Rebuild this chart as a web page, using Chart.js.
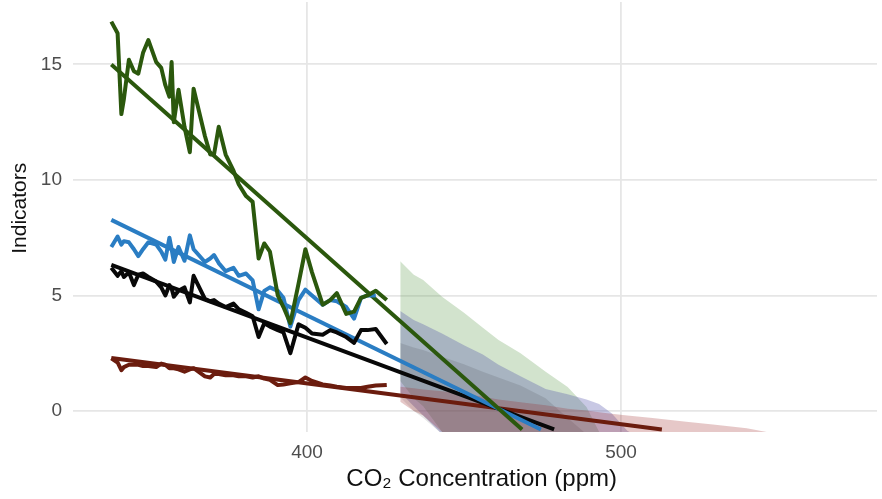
<!DOCTYPE html>
<html lang="en">
<head>
<meta charset="UTF-8" />
<title>Indicators vs CO2</title>
<style>
  html, body { margin: 0; padding: 0; background: #fff; }
  #chart { display: block; }
</style>
</head>
<body>
<canvas id="chart" width="882" height="499"></canvas>
<script src="https://cdn.jsdelivr.net/npm/chart.js"></script>
<script>
// observed CO2 concentration (ppm), one value per year
const co2 = [337.7, 339.7, 340.9, 341.7, 343.3, 344.9, 346.3, 347.8, 349.5, 352.0,
             353.6, 354.9, 356.2, 356.9, 357.6, 359.1, 361.0, 362.7, 363.9, 367.5,
             369.2, 370.4, 371.9, 374.1, 376.6, 378.3, 380.6, 382.7, 384.6, 386.4,
             388.2, 390.7, 392.5, 394.7, 397.3, 399.5, 401.6, 405.0, 407.4, 409.5,
             412.5, 415.0, 417.2, 419.3, 421.9, 425.4];

const greenObs = [16.85, 16.35, 12.85, 13.5, 15.2, 14.7, 14.6, 15.5, 16.05, 15.1,
                  14.85, 14.1, 13.6, 15.1, 12.5, 13.9, 12.3, 11.2, 13.95, 11.9,
                  11.1, 11.1, 12.3, 11.1, 10.4, 9.8, 9.3, 9.05, 6.6, 7.25,
                  6.9, 5.0, 4.5, 3.8, 5.5, 7.0, 6.0, 4.6, 4.8, 5.1,
                  4.2, 4.3, 4.9, 5.0, 5.2, 4.8];

const blueObs = [7.1, 7.55, 7.2, 7.35, 7.3, 7.0, 6.7, 7.0, 7.3, 7.2,
                 6.9, 6.55, 7.5, 7.0, 6.45, 7.1, 6.5, 7.6, 7.0, 6.45,
                 6.6, 6.75, 6.4, 6.05, 6.2, 5.85, 5.95, 5.65, 4.4, 5.2,
                 5.35, 5.2, 4.9, 3.65, 4.8, 5.25, 5.0, 4.6, 4.8, 4.75,
                 4.5, 4.0, 4.9, 5.0, 5.0, null];

const blackObs = [6.2, 5.85, 6.05, 5.8, 6.0, 5.45, 5.9, 5.95, 5.8, 5.6,
                  5.35, 5.0, 5.45, 5.3, 4.95, 5.2, 5.35, 4.7, 5.85, 4.85,
                  4.75, 4.8, 4.65, 4.5, 4.65, 4.4, 4.25, 4.1, 3.2, 3.8,
                  3.65, 3.5, 3.4, 2.5, 3.75, 3.6, 3.35, 3.3, 3.5, 3.4,
                  3.2, 2.95, 3.5, 3.5, 3.55, 2.9];

const redObs = [2.28, 2.1, 1.77, 1.9, 2.0, 2.0, 2.0, 1.95, 1.95, 1.9,
                2.05, 2.0, 1.85, 1.85, 1.85, 1.8, 1.7, 1.8, 1.85, 1.5,
                1.45, 1.6, 1.6, 1.55, 1.55, 1.5, 1.5, 1.45, 1.5, 1.4,
                1.35, 1.12, 1.15, 1.2, 1.25, 1.45, 1.3, 1.15, 1.1, 1.05,
                1.0, 1.0, 1.0, 1.05, 1.1, 1.13];

// linear fits: start and end points
const greenFitX = [337.7, 468.5];
const greenFit = [15.0, -0.8];
const blueFitX = [337.7, 474.5];
const blueFit = [8.27, -0.8];
const blackFitX = [337.7, 478.7];
const blackFit = [6.32, -0.8];
const redFitX = [337.7, 513];
const redFit = [2.29, -0.8];

// projection ranges
const bandX = [429.7, 434, 437, 443, 450, 456, 461, 468, 476, 483,
               489, 493, 497, 502, 510, 520, 530, 540, 548];
const greenUpper = [6.48, 5.9, 5.67, 4.94, 4.25, 3.6, 3.07, 2.5, 1.7, 1.04,
                    0.17, -0.9, -1.5, -1.5, -1.5, -1.5, -1.5, -1.5, -1.5];
const greenLower = [1.3, 0.55, 0.2, -0.9, -1.6, -2, -2, -2, -2, -2,
                    -2, -2, -2, -2, -2, -2, -2, -2, -2];
const blueUpper = [4.33, 3.94, 3.75, 3.35, 2.85, 2.45, 2.0, 1.5, 0.95, 0.72,
                   0.5, 0.3, -0.1, -0.85, -1.5, -1.6, -1.6, -1.6, -1.6];
const blueLower = [0.8, 0.2, -0.2, -1.0, -2, -2, -2, -2, -2, -2,
                   -2, -2, -2, -2, -2, -2, -2, -2, -2];
const blackUpper = [2.94, 2.75, 2.64, 2.35, 2.02, 1.7, 1.45, 1.1, 0.55, -0.3,
                    -1.0, -1.6, -1.6, -1.6, -1.6, -1.6, -1.6, -1.6, -1.6];
const blackLower = [0.6, 0.0, -0.3, -1.0, -2, -2, -2, -2, -2, -2,
                    -2, -2, -2, -2, -2, -2, -2, -2, -2];
const redUpper = [1.05, 0.98, 0.93, 0.85, 0.75, 0.62, 0.5, 0.38, 0.25, 0.1,
                  0.02, -0.05, -0.12, -0.2, -0.3, -0.45, -0.6, -0.75, -0.95];
const redLower = [0.4, 0.0, -0.2, -0.9, -2, -2, -2, -2, -2, -2,
                  -2, -2, -2, -2, -2, -2, -2, -2, -2];

const xTicks = [400, 500];
const yTicks = [0, 5, 10, 15];

const GREEN = '#2b580d';
const BLUE = '#2a7dc3';
const BLACK = '#080808';
const RED = '#6b1c0e';

function toPoints(xs, ys) {
    return xs.map((x, i) => ({ x: x, y: ys[i] }));
}

function lineSet(xs, ys, color, order) {
    return {
        data: toPoints(xs, ys),
        borderColor: color,
        borderWidth: 4,
        borderJoinStyle: 'round',
        pointRadius: 0,
        pointHitRadius: 0,
        fill: false,
        tension: 0,
        clip: 0,
        order: order
    };
}

function bandSets(lower, upper, color, order) {
    return [
        { data: toPoints(bandX, lower), borderColor: 'rgba(0,0,0,0)', borderWidth: 1,
          pointRadius: 0, fill: false, tension: 0, order: order },
        { data: toPoints(bandX, upper), borderColor: 'rgba(0,0,0,0)', borderWidth: 1,
          pointRadius: 0, fill: '-1', backgroundColor: color, tension: 0, order: order }
    ];
}

const font = "'Liberation Sans', Arial, sans-serif";

const datasets = [
    lineSet(co2, greenObs, GREEN, 1),
    lineSet(co2, blueObs, BLUE, 2),
    lineSet(co2, blackObs, BLACK, 3),
    lineSet(co2, redObs, RED, 4),
    lineSet(greenFitX, greenFit, GREEN, 5),
    lineSet(blueFitX, blueFit, BLUE, 6),
    lineSet(blackFitX, blackFit, BLACK, 7),
    lineSet(redFitX, redFit, RED, 8),
    ...bandSets(redLower, redUpper, 'rgba(155,35,35,0.25)', 20),
    ...bandSets(blackLower, blackUpper, 'rgba(0,0,0,0.10)', 21),
    ...bandSets(blueLower, blueUpper, 'rgba(72,72,165,0.30)', 22),
    ...bandSets(greenLower, greenUpper, 'rgba(90,150,70,0.27)', 23)
];

new Chart(document.getElementById('chart'), {
    type: 'line',
    data: { datasets: datasets },
    options: {
        responsive: false,
        animation: false,
        events: [],
        layout: { padding: { top: 2, right: 5, left: 0, bottom: 0 } },
        plugins: { legend: { display: false }, tooltip: { enabled: false } },
        scales: {
            x: {
                type: 'linear',
                min: 325.5,
                max: 581.5,
                border: { display: false },
                grid: { color: '#e6e6e6', lineWidth: 1.8, drawTicks: false },
                afterBuildTicks: s => { s.ticks = xTicks.map(v => ({ value: v })); },
                ticks: { padding: 9, color: '#4d4d4d', font: { family: font, size: 19 } },
                title: {
                    display: true, text: '  CO₂ Concentration (ppm)', color: '#111',
                    font: { family: font, size: 24 }, padding: { top: 0, bottom: 5 }
                },
                afterFit: s => {
                    s.height = 67;
                    s.paddingLeft = 0;
                    s.paddingRight = 0;
                }
            },
            y: {
                type: 'linear',
                min: -0.909,
                max: 17.7,
                border: { display: false },
                grid: { color: '#e6e6e6', lineWidth: 1.8, drawTicks: false },
                afterBuildTicks: s => { s.ticks = yTicks.map(v => ({ value: v })); },
                ticks: { padding: 11, color: '#4d4d4d', font: { family: font, size: 19 } },
                title: {
                    display: true, text: '   Indicators', color: '#111',
                    font: { family: font, size: 21 }, padding: { top: 8, bottom: 0 }
                },
                afterFit: s => {
                    s.width = 73;
                    s.paddingTop = 0;
                    s.paddingBottom = 0;
                }
            }
        }
    }
});
</script>
</body>
</html>
